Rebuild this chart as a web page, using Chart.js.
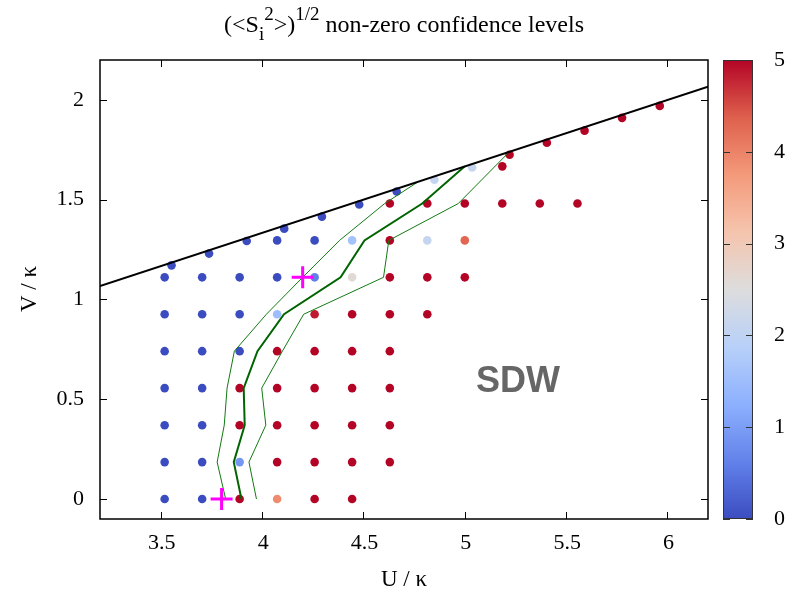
<!DOCTYPE html>
<html><head><meta charset="utf-8">
<script src="https://cdn.jsdelivr.net/npm/chart.js@4.4.0/dist/chart.umd.min.js"></script>
<style>html,body{margin:0;padding:0;background:#fff}#wrap{width:802px;height:594px;position:relative}</style>
</head><body><div id="wrap"><canvas id="c"></canvas></div>
<script>
// ---- data ----
const xTicks = [3.5, 4, 4.5, 5, 5.5, 6];
const yTicks = [0, 0.5, 1, 1.5, 2];
const cbTicks = [0, 1, 2, 3, 4, 5];

const pointU = [
  3.519,3.704,3.889,4.074,4.259,4.444,
  3.519,3.704,3.889,4.074,4.259,4.444,4.630,
  3.519,3.704,3.889,4.074,4.259,4.444,4.630,
  3.519,3.704,3.889,4.074,4.259,4.444,4.630,
  3.519,3.704,3.889,4.074,4.259,4.444,4.630,
  3.519,3.704,3.889,4.074,4.259,4.444,4.630,4.815,
  3.519,3.704,3.889,4.074,4.259,4.444,4.630,4.815,5.000,
  4.074,4.259,4.444,4.630,4.815,5.000,
  4.630,4.815,5.000,5.185,5.370,5.556,
  5.185,
  3.553,3.738,3.924,4.109,4.295,4.479,4.664,4.850,5.036,5.221,5.405,5.591,5.776,5.962
];
const pointV = [
  0,0,0,0,0,0,
  0.185,0.185,0.185,0.185,0.185,0.185,0.185,
  0.370,0.370,0.370,0.370,0.370,0.370,0.370,
  0.556,0.556,0.556,0.556,0.556,0.556,0.556,
  0.741,0.741,0.741,0.741,0.741,0.741,0.741,
  0.926,0.926,0.926,0.926,0.926,0.926,0.926,0.926,
  1.111,1.111,1.111,1.111,1.111,1.111,1.111,1.111,1.111,
  1.296,1.296,1.296,1.296,1.296,1.296,
  1.481,1.481,1.481,1.481,1.481,1.481,
  1.667,
  1.171,1.230,1.293,1.355,1.415,1.476,1.541,1.600,1.661,1.725,1.785,1.846,1.910,1.970
];
const pointLevel = [
  0,0,5,3.9,5,5,
  0,0,0.9,5,5,5,5,
  0,0,5,5,5,5,5,
  0,0,5,5,5,5,5,
  0,0,0,5,5,5,5,
  0,0,0,1.5,4.85,5,5,5,
  0,0,0,0,0.6,2.6,5,5,5,
  0,0,1.6,5,2.1,4.3,
  5,5,5,5,5,5,
  5,
  0,0,0,0,0,0,0,2.1,2.1,5,5,5,5,5
];

const boundU = [3.2, 6.2];
const boundV = [1.0667, 2.0667];

const midU = [3.898,3.860,3.914,3.909,3.977,4.108,4.387,4.505,4.790,5.000];
const midV = [0.000,0.185,0.370,0.556,0.741,0.926,1.111,1.296,1.481,1.667];
const loU  = [3.820,3.778,3.813,3.827,3.863,4.021,4.200,4.382,4.605,4.770];
const loV  = [0.000,0.185,0.370,0.556,0.741,0.926,1.111,1.296,1.481,1.590];
const hiU  = [3.972,3.935,4.018,3.998,4.100,4.205,4.599,4.625,4.968,5.220];
const hiV  = [0.000,0.185,0.370,0.556,0.741,0.926,1.111,1.296,1.481,1.740];

const crossU = [3.80, 4.20];
const crossV = [0.00, 1.111];

// ---- colormap (coolwarm) ----
const cmap = [[59,76,192],[98,130,234],[141,176,254],[184,208,249],[221,221,221],[245,196,173],[244,154,123],[222,96,77],[180,4,38]];
function cw(v){
  let t = Math.max(0, Math.min(1, v/5)) * (cmap.length-1);
  let i = Math.min(cmap.length-2, Math.floor(t)); let f = t - i;
  const a = cmap[i], b = cmap[i+1];
  return 'rgb(' + [0,1,2].map(k => Math.round(a[k] + (b[k]-a[k])*f)).join(',') + ')';
}
const zip = (xs, ys) => xs.map((x, i) => ({x: x, y: ys[i]}));

const SERIF = '"Liberation Serif","Times New Roman",serif';
const FS = 22;

const decor = {
  id: 'decor',
  afterDraw(chart) {
    const ctx = chart.ctx, a = chart.chartArea;
    const xs = chart.scales.x, ys = chart.scales.y, cs = chart.scales.cb;
    ctx.save();
    // border
    ctx.strokeStyle = '#000'; ctx.lineWidth = 1.5;
    ctx.strokeRect(a.left, a.top, a.right - a.left, a.bottom - a.top);
    // ticks
    ctx.lineWidth = 1;
    ctx.beginPath();
    xTicks.forEach(v => { const px = Math.round(xs.getPixelForValue(v)) + 0.5;
      ctx.moveTo(px, a.bottom); ctx.lineTo(px, a.bottom - 7);
      ctx.moveTo(px, a.top); ctx.lineTo(px, a.top + 7); });
    yTicks.forEach(v => { const py = Math.round(ys.getPixelForValue(v)) + 0.5;
      ctx.moveTo(a.left, py); ctx.lineTo(a.left + 7, py);
      ctx.moveTo(a.right, py); ctx.lineTo(a.right - 7, py); });
    ctx.stroke();
    // tick labels
    ctx.fillStyle = '#000';
    ctx.font = FS + 'px ' + SERIF;
    ctx.textAlign = 'center'; ctx.textBaseline = 'middle';
    xTicks.forEach(v => ctx.fillText(String(v), xs.getPixelForValue(v) + 1, 543));
    ctx.textAlign = 'right';
    yTicks.forEach(v => ctx.fillText(String(v), 84, ys.getPixelForValue(v)));
    // axis titles
    ctx.font = '23px ' + SERIF;
    ctx.textAlign = 'center';
    ctx.fillText('U / κ', 404, 580);
    ctx.save(); ctx.translate(30, 289); ctx.rotate(-Math.PI/2);
    ctx.fillText('V / κ', 0, 0); ctx.restore();
    ctx.font = FS + 'px ' + SERIF;
    // colorbar
    const cbL = 723, cbR = 753, cbT = cs.getPixelForValue(5), cbB = cs.getPixelForValue(0);
    const g = ctx.createLinearGradient(0, cbB, 0, cbT);
    for (let i = 0; i <= 40; i++) g.addColorStop(i/40, cw(i/40*5));
    ctx.fillStyle = g; ctx.fillRect(cbL, cbT, cbR - cbL, cbB - cbT);
    ctx.strokeStyle = '#333'; ctx.lineWidth = 1;
    ctx.strokeRect(cbL + 0.5, cbT + 0.5, cbR - cbL - 1, cbB - cbT - 1);
    ctx.beginPath();
    cbTicks.forEach(v => { const py = Math.round(cs.getPixelForValue(v)) + 0.5;
      ctx.moveTo(cbL, py); ctx.lineTo(cbL + 7, py);
      ctx.moveTo(cbR, py); ctx.lineTo(cbR - 7, py); });
    ctx.stroke();
    ctx.fillStyle = '#000'; ctx.textAlign = 'left';
    cbTicks.forEach(v => ctx.fillText(String(v), 774, cs.getPixelForValue(v)));
    // SDW label
    ctx.font = 'bold 36px "Liberation Sans",Arial,sans-serif';
    ctx.fillStyle = '#666'; ctx.textAlign = 'center';
    ctx.fillText('SDW', 518, 382);
    // title with sub/superscripts (gnuplot enhanced-text style)
    const segs = [
      {t:'(<S', s:24, dy:0}, {t:'i', s:19, dy:8}, {t:'2', s:19, dy:-12},
      {t:'>)', s:24, dy:0}, {t:'1/2', s:19, dy:-12}, {t:' non-zero confidence levels', s:24, dy:0}
    ];
    ctx.fillStyle = '#000'; ctx.textAlign = 'left'; ctx.textBaseline = 'alphabetic';
    let w = 0;
    segs.forEach(sg => { ctx.font = sg.s + 'px ' + SERIF; sg.w = ctx.measureText(sg.t).width; w += sg.w; });
    let x = 404 - w / 2; const base = 32;
    segs.forEach(sg => { ctx.font = sg.s + 'px ' + SERIF; ctx.fillText(sg.t, x, base + sg.dy); x += sg.w; });
    ctx.restore();
  }
};

new Chart(document.getElementById('c'), {
  type: 'scatter',
  data: {
    datasets: [
      { data: zip(crossU, crossV), pointStyle: 'cross', pointRadius: 11, borderWidth: 3,
        borderColor: '#ff00ff', backgroundColor: '#ff00ff', order: 0 },
      { data: zip(boundU, boundV), showLine: true, borderColor: '#000', borderWidth: 2,
        pointRadius: 0, order: 1 },
      { data: zip(midU, midV), showLine: true, borderColor: '#006400', borderWidth: 2,
        pointRadius: 0, order: 2 },
      { data: zip(loU, loV), showLine: true, borderColor: '#127a12', borderWidth: 1,
        pointRadius: 0, order: 2 },
      { data: zip(hiU, hiV), showLine: true, borderColor: '#127a12', borderWidth: 1,
        pointRadius: 0, order: 2 },
      { data: zip(pointU, pointV), pointRadius: 4.3, borderWidth: 0,
        backgroundColor: pointLevel.map(cw), pointBorderColor: pointLevel.map(cw), order: 3 }
    ]
  },
  options: {
    responsive: true, maintainAspectRatio: false, animation: false,
    layout: { padding: { left: 100, right: 94, top: 60, bottom: 75 } },
    plugins: { legend: { display: false }, title: { display: false }, tooltip: { enabled: false } },
    scales: {
      x: { type: 'linear', min: 3.2, max: 6.2, display: false },
      y: { type: 'linear', min: -0.1, max: 2.2, display: false },
      cb: { type: 'linear', axis: 'y', min: 0, max: 5, display: false }
    }
  },
  plugins: [decor]
});
</script>
</body></html>
